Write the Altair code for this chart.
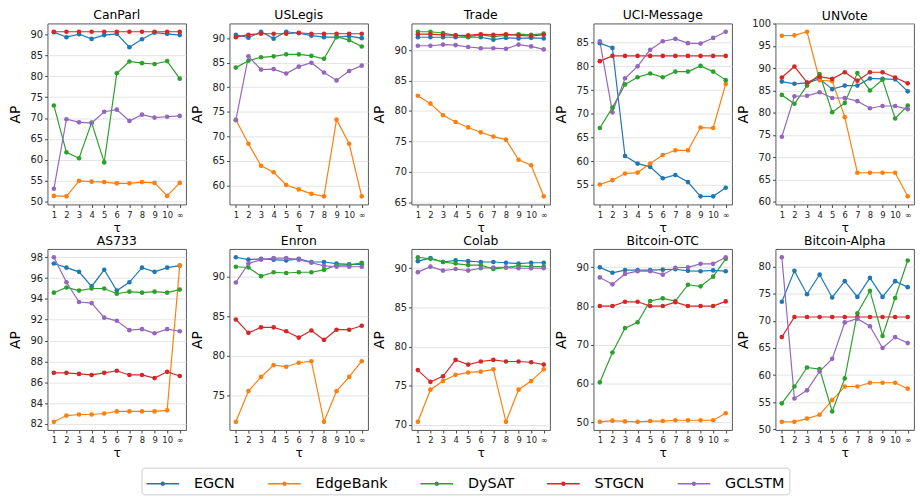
import altair as alt
import pandas as pd

TAU = ["1", "2", "3", "4", "5", "6", "7", "8", "9", "10", "∞"]
MODELS = ["EGCN", "EdgeBank", "DySAT", "STGCN", "GCLSTM"]
COLORS = ["#1f77b4", "#ff7f0e", "#2ca02c", "#d62728", "#9467bd"]

CANPARL = {
    "EGCN": [90.5, 89.3, 90.0, 88.9, 89.8, 90.1, 86.9, 88.8, 90.4, 90.1, 89.8],
    "EdgeBank": [51.4, 51.3, 55.0, 54.8, 54.7, 54.4, 54.4, 54.7, 54.5, 51.4, 54.5],
    "DySAT": [73.0, 61.8, 60.4, 68.9, 59.4, 80.7, 83.5, 83.1, 82.9, 83.6, 79.4],
    "STGCN": [90.6, 90.6, 90.6, 90.6, 90.6, 90.6, 90.6, 90.6, 90.6, 90.6, 90.6],
    "GCLSTM": [53.1, 69.7, 69.0, 68.8, 71.5, 72.0, 69.3, 70.8, 70.1, 70.3, 70.5],
}
CANPARL_TICKS = [50, 55, 60, 65, 70, 75, 80, 85, 90]

USLEGIS = {
    "EGCN": [90.7, 90.1, 91.3, 89.9, 91.3, 91.0, 90.5, 90.2, 90.2, 90.4, 90.0],
    "EdgeBank": [73.4, 68.5, 64.0, 62.7, 60.1, 59.2, 58.3, 57.8, 73.4, 68.5, 57.8],
    "DySAT": [84.0, 85.4, 86.1, 86.3, 86.7, 86.7, 86.4, 85.8, 90.3, 89.6, 88.3],
    "STGCN": [90.2, 90.7, 90.9, 90.9, 90.9, 91.1, 90.9, 90.9, 90.9, 90.9, 90.9],
    "GCLSTM": [73.3, 86.3, 83.6, 83.7, 82.8, 84.2, 85.0, 83.0, 81.4, 83.3, 84.4],
}
USLEGIS_TICKS = [60, 65, 70, 75, 80, 85, 90]

TRADE = {
    "EGCN": [92.1, 92.1, 92.1, 92.1, 92.1, 92.1, 91.7, 92.0, 91.9, 92.0, 91.9],
    "EdgeBank": [82.5, 81.2, 79.3, 78.2, 77.3, 76.5, 75.8, 75.3, 72.0, 71.1, 66.0],
    "DySAT": [93.0, 93.0, 92.8, 92.4, 92.2, 92.5, 92.2, 92.4, 92.6, 92.5, 92.7],
    "STGCN": [92.6, 92.6, 92.5, 92.4, 92.4, 92.6, 92.5, 92.6, 92.4, 92.3, 92.5],
    "GCLSTM": [90.7, 90.7, 90.9, 90.8, 90.5, 90.3, 90.3, 90.2, 90.9, 90.6, 90.1],
}
TRADE_TICKS = [65, 70, 75, 80, 85, 90]

UCI = {
    "EGCN": [84.9, 83.9, 61.1, 59.5, 58.8, 56.4, 57.1, 55.6, 52.6, 52.6, 54.4],
    "EdgeBank": [55.1, 56.0, 57.4, 57.6, 59.5, 61.3, 62.3, 62.3, 67.1, 67.0, 76.3],
    "DySAT": [67.0, 71.3, 76.2, 77.7, 78.5, 77.7, 78.9, 78.9, 80.1, 78.9, 77.1],
    "STGCN": [81.1, 82.2, 82.2, 82.2, 82.2, 82.2, 82.2, 82.2, 82.2, 82.2, 82.2],
    "GCLSTM": [85.3, 70.3, 77.5, 80.0, 83.5, 85.3, 85.8, 84.9, 84.8, 86.0, 87.3],
}
UCI_TICKS = [55, 60, 65, 70, 75, 80, 85]

UNVOTE = {
    "EGCN": [87.0, 86.5, 86.7, 87.6, 85.3, 86.1, 86.1, 87.7, 87.6, 87.5, 84.8],
    "EdgeBank": [97.3, 97.4, 98.2, 87.3, 87.1, 79.0, 66.5, 66.5, 66.5, 66.5, 61.2],
    "DySAT": [84.0, 82.0, 86.1, 88.7, 80.1, 82.2, 88.9, 85.0, 87.4, 78.7, 81.6],
    "STGCN": [87.9, 90.4, 86.8, 88.1, 87.6, 89.1, 87.2, 89.1, 89.1, 87.9, 86.6],
    "GCLSTM": [74.6, 83.7, 83.8, 84.6, 83.3, 83.3, 82.6, 81.0, 81.5, 81.5, 80.8],
}
UNVOTE_TICKS = [60, 65, 70, 75, 80, 85, 90, 95, 100]

AS733 = {
    "EGCN": [97.4, 97.0, 96.6, 95.2, 96.8, 94.8, 95.6, 97.0, 96.6, 97.0, 97.2],
    "EdgeBank": [82.2, 82.8, 82.9, 82.9, 83.0, 83.2, 83.2, 83.2, 83.2, 83.3, 97.2],
    "DySAT": [94.6, 95.1, 94.8, 95.0, 95.0, 94.5, 94.7, 94.6, 94.7, 94.6, 94.9],
    "STGCN": [86.9, 86.9, 86.8, 86.7, 86.9, 87.1, 86.7, 86.7, 86.4, 87.0, 86.6],
    "GCLSTM": [98.0, 95.6, 93.7, 93.6, 92.2, 91.9, 91.0, 91.1, 90.7, 91.1, 90.9],
}
AS733_TICKS = [82, 84, 86, 88, 90, 92, 94, 96, 98]

ENRON = {
    "EGCN": [92.5, 92.2, 92.3, 92.2, 92.1, 92.3, 91.9, 91.9, 91.7, 91.6, 91.6],
    "EdgeBank": [71.6, 75.5, 77.3, 78.8, 78.6, 79.1, 79.3, 71.6, 75.5, 77.3, 79.3],
    "DySAT": [91.3, 91.2, 90.1, 90.6, 90.5, 90.6, 90.6, 90.9, 91.5, 91.5, 91.8],
    "STGCN": [84.6, 82.9, 83.6, 83.6, 83.1, 82.3, 83.2, 82.0, 83.3, 83.3, 83.8],
    "GCLSTM": [89.3, 91.7, 92.2, 92.4, 92.4, 92.2, 91.8, 91.4, 91.3, 91.3, 91.3],
}
ENRON_TICKS = [75, 80, 85, 90]

COLAB = {
    "EGCN": [90.9, 91.3, 90.8, 91.0, 90.9, 90.8, 90.8, 90.7, 90.6, 90.7, 90.7],
    "EdgeBank": [70.4, 74.5, 75.6, 76.4, 76.7, 76.8, 77.1, 70.4, 74.5, 75.6, 77.1],
    "DySAT": [91.4, 91.2, 90.8, 90.6, 90.4, 90.4, 89.9, 90.1, 90.3, 90.2, 90.2],
    "STGCN": [77.0, 75.5, 76.2, 78.3, 77.7, 78.1, 78.3, 78.1, 78.1, 78.0, 77.7],
    "GCLSTM": [89.5, 90.2, 89.7, 89.9, 89.7, 90.0, 90.1, 90.1, 90.0, 90.0, 90.0],
}
COLAB_TICKS = [70, 75, 80, 85, 90]

BTC_OTC = {
    "EGCN": [90.0, 88.6, 89.3, 89.3, 89.3, 89.4, 89.5, 89.1, 89.0, 89.2, 89.0],
    "EdgeBank": [50.1, 50.4, 50.2, 50.1, 50.3, 50.3, 50.5, 50.5, 50.5, 50.5, 52.3],
    "DySAT": [60.3, 68.0, 74.3, 75.8, 81.3, 82.0, 81.3, 85.5, 85.1, 87.6, 92.2],
    "STGCN": [80.0, 80.0, 81.1, 81.1, 80.0, 80.0, 81.0, 80.0, 80.0, 80.0, 81.2],
    "GCLSTM": [87.4, 85.6, 88.3, 89.0, 89.0, 88.1, 89.9, 90.0, 90.9, 90.9, 92.6],
}
BTC_OTC_TICKS = [50, 60, 70, 80, 90]

BTC_ALPHA = {
    "EGCN": [73.5, 79.2, 74.9, 78.5, 74.3, 77.3, 74.4, 77.9, 74.4, 77.3, 76.2],
    "EdgeBank": [51.4, 51.4, 52.0, 52.7, 55.4, 57.9, 57.9, 58.6, 58.6, 58.6, 57.5],
    "DySAT": [54.8, 57.9, 61.4, 61.1, 53.3, 59.4, 71.4, 75.5, 67.2, 74.2, 81.1],
    "STGCN": [67.0, 70.7, 70.7, 70.7, 70.7, 70.7, 70.7, 70.7, 70.7, 70.7, 70.7],
    "GCLSTM": [81.7, 55.7, 57.2, 60.7, 63.0, 69.7, 70.4, 69.0, 65.0, 67.0, 65.9],
}
BTC_ALPHA_TICKS = [50, 55, 60, 65, 70, 75, 80]

ROW1 = [("CanParl", CANPARL, CANPARL_TICKS), ("USLegis", USLEGIS, USLEGIS_TICKS),
        ("Trade", TRADE, TRADE_TICKS), ("UCI-Message", UCI, UCI_TICKS),
        ("UNVote", UNVOTE, UNVOTE_TICKS)]
ROW2 = [("AS733", AS733, AS733_TICKS), ("Enron", ENRON, ENRON_TICKS),
        ("Colab", COLAB, COLAB_TICKS), ("Bitcoin-OTC", BTC_OTC, BTC_OTC_TICKS),
        ("Bitcoin-Alpha", BTC_ALPHA, BTC_ALPHA_TICKS)]

FONT = "DejaVu Sans"
# legend glyph: a short line with a dot in the middle (drawn to the right of the entry origin)
SYMBOL = "M-1,0L2,0M0.36,0a0.14,0.14 0 1,0 0.28,0a0.14,0.14 0 1,0 -0.28,0"

LEG = alt.Legend(
    title=None, orient="none", legendX=95, legendY=449, direction="horizontal",
    columns=5, symbolType=SYMBOL, symbolSize=484, symbolStrokeWidth=1.4,
    labelFontSize=14.5, labelFont=FONT, columnPadding=30, labelOffset=25,
    padding=4, strokeColor="#cccccc", fillColor="white", cornerRadius=3,
    labelColor="#000000",
)

PLOT_H = 183
LABEL_HALF = 5.5


def panel(name, data, ticks):
    rows = []
    for m in MODELS:
        for i, (t, v) in enumerate(zip(TAU, data[m])):
            rows.append({"model": m, "tau": t, "i": i, "ap": v})
    df = pd.DataFrame(rows)
    vals = [v for m in MODELS for v in data[m]]
    lo, hi = min(vals), max(vals)
    pad = 0.05 * (hi - lo)
    d0, d1 = lo - pad, hi + pad
    # keep every panel title at the same height even if the top tick label pokes above the frame
    top_gap = (d1 - ticks[-1]) / (d1 - d0) * PLOT_H
    poke = max(0.0, LABEL_HALF - top_gap)
    x = alt.X("tau:O", sort=TAU, scale=alt.Scale(type="point", padding=0.5),
              axis=alt.Axis(title="τ", labelAngle=0, labelFontSize=8.5, labelPadding=3,
                            titleFontSize=12.5, titlePadding=0, minExtent=17, maxExtent=17))
    y = alt.Y("ap:Q", scale=alt.Scale(domain=[d0, d1], nice=False, zero=False),
              axis=alt.Axis(title="AP", values=ticks, labelFontSize=10, titleFontSize=14,
                            titlePadding=3, minExtent=22, maxExtent=22))
    color = alt.Color("model:N", scale=alt.Scale(domain=MODELS, range=COLORS), legend=LEG)
    base = alt.Chart(df).encode(x=x, y=y, color=color, order=alt.Order("i:Q"))
    lines = base.mark_line(strokeWidth=1.2)
    pts = base.mark_point(filled=True, size=22, opacity=1)
    return alt.layer(lines, pts).properties(
        width=140, height=PLOT_H,
        title=alt.TitleParams(name, fontSize=12.5, fontWeight="normal", font=FONT,
                              offset=2 - poke),
    )


row1 = alt.hconcat(*[panel(*p) for p in ROW1], spacing=3)
row2 = alt.hconcat(*[panel(*p) for p in ROW2], spacing=3)

chart = (
    alt.vconcat(row1, row2, spacing=0)
    .properties(padding={"top": -2, "left": 0, "right": 0, "bottom": 0})
    .configure(font=FONT)
    .configure_view(stroke="#444444", strokeWidth=0.9)
    .configure_axis(domain=False, gridColor="#dddddd", gridWidth=0.8, tickColor="#444444",
                    tickSize=3, labelColor="#222222", titleColor="#000000",
                    labelFont=FONT, titleFont=FONT, titleFontWeight="normal")
    .configure_title(anchor="middle", color="#000000")
)

chart.save("out.html", embed_options={"renderer": "svg", "actions": False})
